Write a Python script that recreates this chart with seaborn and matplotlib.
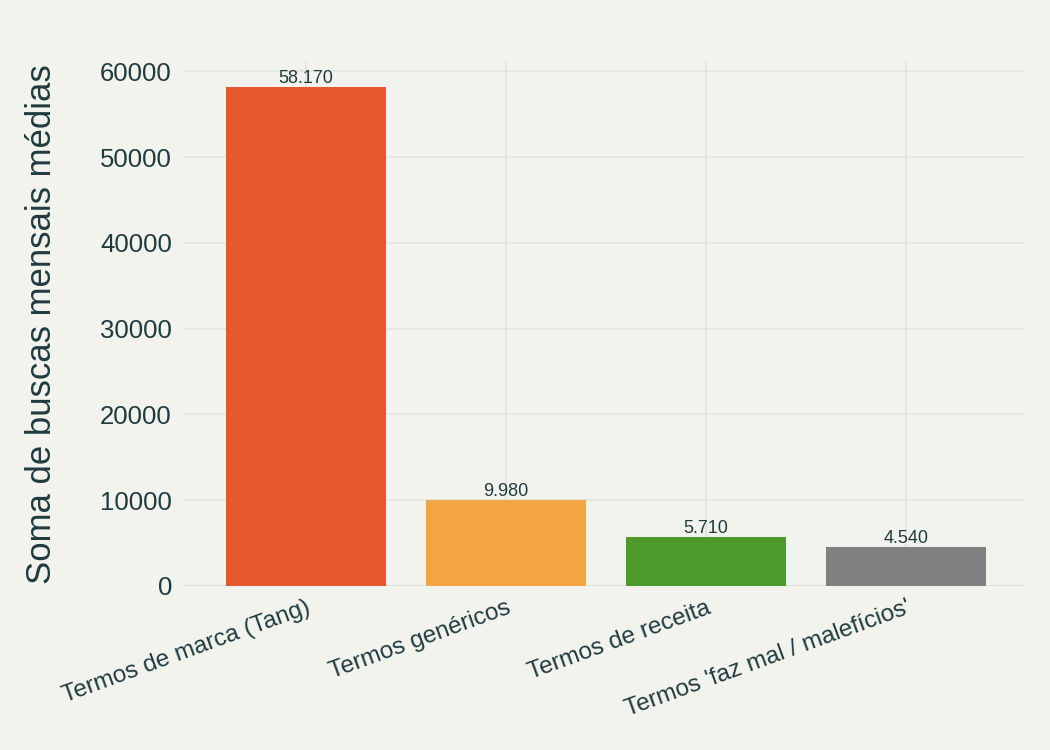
import numpy as np
import pandas as pd
import seaborn as sns
import matplotlib
matplotlib.use('Agg')
import matplotlib.pyplot as plt

# data
categories = ['Termos de marca (Tang)', 'Termos genéricos', 'Termos de receita', "Termos 'faz mal / malefícios'"]
searches = [58170, 9980, 5710, 4540]
bar_colors = ['#e5582e', '#f2a541', '#4c9a2a', '#808080']
y_ticks = [0, 10000, 20000, 30000, 40000, 50000, 60000]

bg = '#f3f3ee'
ink = '#1f3b40'
grid = '#e4e4df'

sns.set_theme(style='white')
plt.rcParams['font.family'] = ['Liberation Sans', 'DejaVu Sans']

df = pd.DataFrame({'categoria': categories, 'buscas': searches})

fig = plt.figure(figsize=(10.5, 7.5), dpi=100, facecolor=bg)
ax = fig.add_axes([0.1743, 0.2187, 0.8017, 0.6983])
ax.set_facecolor(bg)

sns.barplot(data=df, x='categoria', y='buscas', hue='categoria', palette=bar_colors,
            legend=False, width=0.8, saturation=1, linewidth=0, ax=ax, zorder=2)

# labels on top of bars, dot as thousands separator
for i, v in enumerate(searches):
    ax.text(i, v, '{:,}'.format(v).replace(',', '.'), ha='center', va='bottom',
            fontsize=13, color=ink, zorder=3)

ax.set_ylim(0, 61050)
ax.set_xlim(-0.615, 3.595)
ax.set_yticks(y_ticks)
ax.set_yticklabels([str(t) for t in y_ticks], fontsize=18.5, color=ink)
ax.grid(True, axis='both', color=grid, linewidth=1.2, zorder=0)
ax.set_axisbelow(True)
for s in ax.spines.values():
    s.set_visible(False)
ax.axhline(0, color=grid, linewidth=1.5, zorder=1)
ax.tick_params(axis='both', length=0)
ax.tick_params(axis='y', pad=8)
ax.tick_params(axis='x', pad=8)

plt.setp(ax.get_xticklabels(), rotation=20, ha='right', rotation_mode='anchor',
         fontsize=17.5, color=ink)
ax.set_xlabel('')
ax.set_ylabel('Soma de buscas mensais médias', fontsize=25, color=ink, labelpad=30)

fig.savefig('out.png', dpi=100, facecolor=bg)
